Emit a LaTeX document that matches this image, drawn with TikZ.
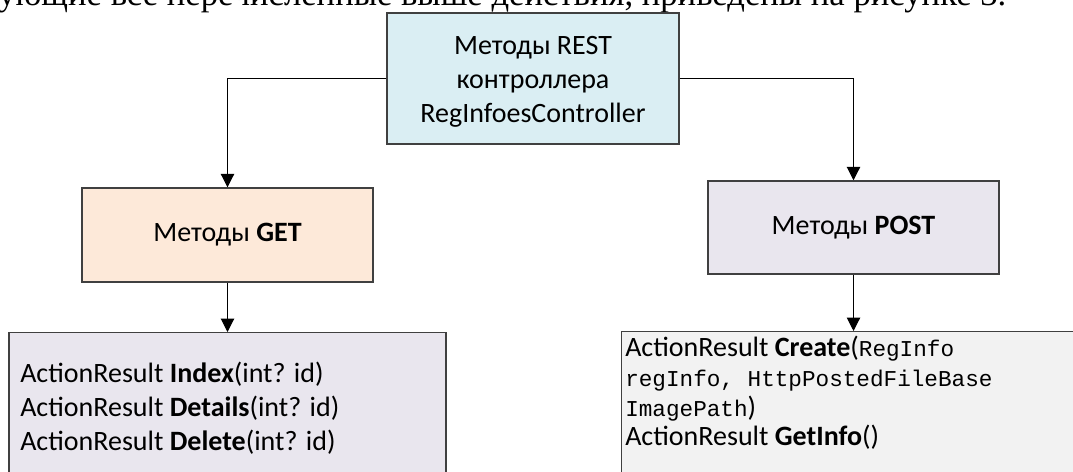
\documentclass[tikz,border=0pt]{standalone}
\usepackage{fontspec}
\setmainfont{Carlito}
\setmonofont{Liberation Mono}
\newfontfamily\leadfont{Liberation Serif}
\usetikzlibrary{arrows.meta}
\definecolor{restblue}{RGB}{218, 238, 243}
\definecolor{getpeach}{RGB}{253, 233, 217}
\definecolor{postlilac}{RGB}{233, 230, 238}
\definecolor{listgray}{RGB}{242, 242, 242}
\definecolor{boxedge}{RGB}{64, 64, 64}
\newcommand{\srccode}[1]{{\fontsize{17}{22.3}\selectfont\ttfamily #1}}

\begin{document}
\begin{tikzpicture}[
    x=0.75pt, y=-0.75pt,
    box/.style={rectangle, draw=boxedge, fill=#1, line width=1.1pt, inner sep=0pt,
                align=center, font=\fontsize{21}{25.5}\selectfont},
    listing/.style={anchor=north west, inner sep=0pt, align=left},
    arrow/.style={-{Triangle[width=10pt, length=10pt]}, line width=0.8pt}
]
\clip (0,0) rectangle (1073,471);
\fill[white] (0,0) rectangle (1073,471);

% cut-off line of the page text above the figure
\node[anchor=base west, inner sep=0pt, font=\leadfont\fontsize{26}{30}\selectfont] (lead) at (-2,6)
    {ующие все перечисленные выше действия, приведены на рисунке 3.};

% ============================================
% CONTROLLER
% ============================================
\node[box=restblue, minimum width=219pt, minimum height=98.25pt] (rest) at (533,78.5)
    {\rule{0pt}{19pt}Методы REST\\контроллера\\RegInfoesController};

% ============================================
% GET / POST
% ============================================
\node[box=getpeach, minimum width=218.25pt, minimum height=70.5pt] (get) at (227.5,235)
    {Методы \textbf{GET}};
\node[box=postlilac, minimum width=218.25pt, minimum height=69.75pt] (post) at (853.5,227.5)
    {Методы \textbf{POST}};

\draw[arrow] (rest.west) -| (get.north);
\draw[arrow] (rest.east) -| (post.north);

% ============================================
% ACTION LISTS
% ============================================
\node[box=postlilac, anchor=north, minimum width=327.75pt, minimum height=127.5pt] (getlist) at (227.5,332) {};
\node[box=listgray, anchor=north west, minimum width=359pt, minimum height=127.5pt] (postlist) at (621,331) {};

\node[listing, font=\fontsize{21}{25.5}\selectfont] (getitems) at (20,362) {
    ActionResult \textbf{Index}(int? id)\\
    ActionResult \textbf{Details}(int? id)\\
    ActionResult \textbf{Delete}(int? id)
};
\node[listing, font=\fontsize{21}{22.3}\selectfont] (postitems) at (625,336) {
    ActionResult \textbf{Create}(\srccode{RegInfo}\\
    \srccode{regInfo, HttpPostedFileBase}\\
    \srccode{ImagePath})\\
    ActionResult \textbf{GetInfo}()
};

\draw[arrow] (get.south) -- (getlist.north);
\draw[arrow] (post.south) -- (post.south |- postlist.north);

\end{tikzpicture}
\end{document}
